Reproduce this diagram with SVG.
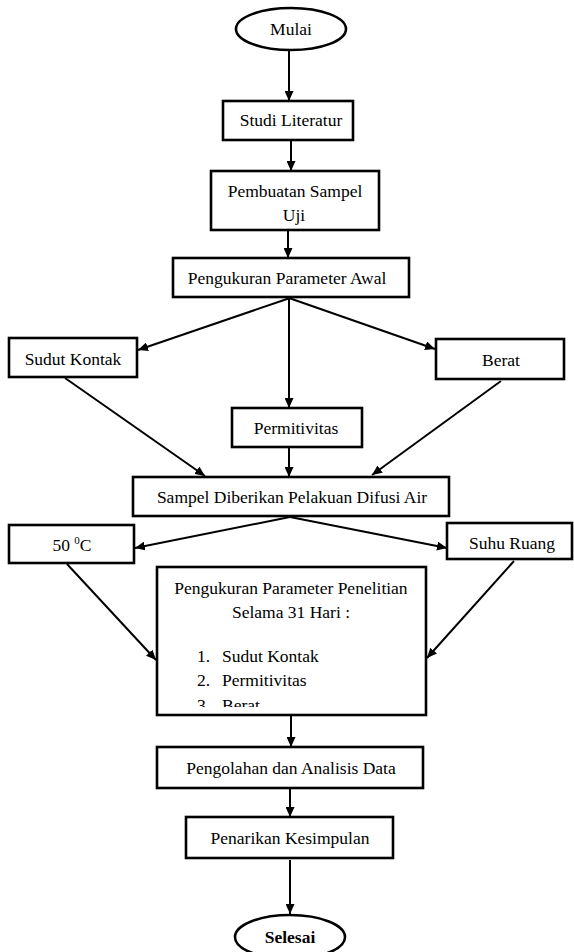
<svg xmlns="http://www.w3.org/2000/svg" width="574" height="952" viewBox="0 0 574 952">
<style>
.box{fill:#fff;stroke:#000;stroke-width:2.6}
.t{font-family:'Liberation Serif','DejaVu Serif',serif;font-size:17.5px;fill:#000;text-anchor:middle}
.tl{font-family:'Liberation Serif','DejaVu Serif',serif;font-size:17.5px;fill:#000}
.c{fill:none;stroke:#000;stroke-width:2}
</style>
<defs>
<marker id="ah" markerUnits="userSpaceOnUse" markerWidth="10" markerHeight="9" refX="10" refY="4.5" orient="auto">
<path d="M0,0 L10,4.5 L0,9 z" fill="#000"/>
</marker>
<clipPath id="bigclip"><rect x="157" y="567" width="269" height="140"/></clipPath>
</defs>
<rect width="574" height="952" fill="#fff"/>

<g id="connectors">
<line class="c" x1="289" y1="50" x2="289" y2="101" marker-end="url(#ah)"/>
<line class="c" x1="291" y1="140" x2="291" y2="171" marker-end="url(#ah)"/>
<line class="c" x1="288" y1="230" x2="288" y2="258" marker-end="url(#ah)"/>
<line class="c" x1="290" y1="298" x2="138" y2="350" marker-end="url(#ah)"/>
<line class="c" x1="289" y1="297" x2="289" y2="408" marker-end="url(#ah)"/>
<line class="c" x1="289" y1="298" x2="435" y2="349" marker-end="url(#ah)"/>
<line class="c" x1="65" y1="378" x2="205" y2="476" marker-end="url(#ah)"/>
<line class="c" x1="289" y1="447" x2="289" y2="477" marker-end="url(#ah)"/>
<line class="c" x1="501" y1="381" x2="372" y2="475" marker-end="url(#ah)"/>
<line class="c" x1="290" y1="517" x2="135" y2="548" marker-end="url(#ah)"/>
<line class="c" x1="290" y1="517" x2="447" y2="548" marker-end="url(#ah)"/>
<line class="c" x1="67" y1="564" x2="156" y2="660" marker-end="url(#ah)"/>
<line class="c" x1="514" y1="561" x2="427" y2="658" marker-end="url(#ah)"/>
<line class="c" x1="291" y1="716" x2="291" y2="747" marker-end="url(#ah)"/>
<line class="c" x1="290" y1="789" x2="290" y2="817" marker-end="url(#ah)"/>
<line class="c" x1="290" y1="860" x2="290" y2="914" marker-end="url(#ah)"/>
</g>

<g id="mulai">
<ellipse class="box" cx="291" cy="29" rx="55" ry="21"/>
<text class="t" x="291" y="35">Mulai</text>
</g>

<g id="studi">
<rect class="box" x="223" y="101" width="130" height="39"/>
<text class="t" x="291" y="126">Studi Literatur</text>
</g>

<g id="pembuatan">
<rect class="box" x="211" y="171" width="168" height="59"/>
<text class="t" x="295" y="197">Pembuatan Sampel</text>
<text class="t" x="294" y="221">Uji</text>
</g>

<g id="awal">
<rect class="box" x="173" y="258" width="236" height="39"/>
<text class="t" x="287" y="284">Pengukuran Parameter Awal</text>
</g>

<g id="sudut">
<rect class="box" x="9" y="338" width="128" height="39"/>
<text class="t" x="73" y="365">Sudut Kontak</text>
</g>

<g id="berat">
<rect class="box" x="436" y="339" width="128" height="40"/>
<text class="t" x="501" y="366">Berat</text>
</g>

<g id="permitivitas">
<rect class="box" x="232" y="408" width="130" height="39"/>
<text class="t" x="296" y="434">Permitivitas</text>
</g>

<g id="sampel">
<rect class="box" x="133" y="477" width="316" height="39"/>
<text class="t" x="292" y="503">Sampel Diberikan Pelakuan Difusi Air</text>
</g>

<g id="suhu50">
<rect class="box" x="9" y="525" width="125" height="38"/>
<text class="t" x="72" y="551">50 <tspan font-size="11" dy="-7">0</tspan><tspan dy="7">C</tspan></text>
</g>

<g id="suhuruang">
<rect class="box" x="447" y="523" width="125" height="36"/>
<text class="t" x="512" y="549">Suhu Ruang</text>
</g>

<g id="penelitian">
<rect class="box" x="157" y="567" width="269" height="148"/>
<g clip-path="url(#bigclip)">
<text class="t" x="291" y="594">Pengukuran Parameter Penelitian</text>
<text class="t" x="291" y="618">Selama 31 Hari :</text>
<text class="tl" x="197" y="662">1.</text>
<text class="tl" x="222" y="662">Sudut Kontak</text>
<text class="tl" x="197" y="686">2.</text>
<text class="tl" x="222" y="686">Permitivitas</text>
<text class="tl" x="197" y="711">3.</text>
<text class="tl" x="222" y="711">Berat</text>
</g>
</g>

<g id="pengolahan">
<rect class="box" x="157" y="747" width="266" height="41"/>
<text class="t" x="291" y="774">Pengolahan dan Analisis Data</text>
</g>

<g id="penarikan">
<rect class="box" x="186" y="817" width="207" height="41"/>
<text class="t" x="290" y="844">Penarikan Kesimpulan</text>
</g>

<g id="selesai">
<ellipse class="box" cx="290" cy="937" rx="55" ry="22"/>
<text class="t" x="290" y="943" font-weight="bold" font-size="16">Selesai</text>
</g>
</svg>
